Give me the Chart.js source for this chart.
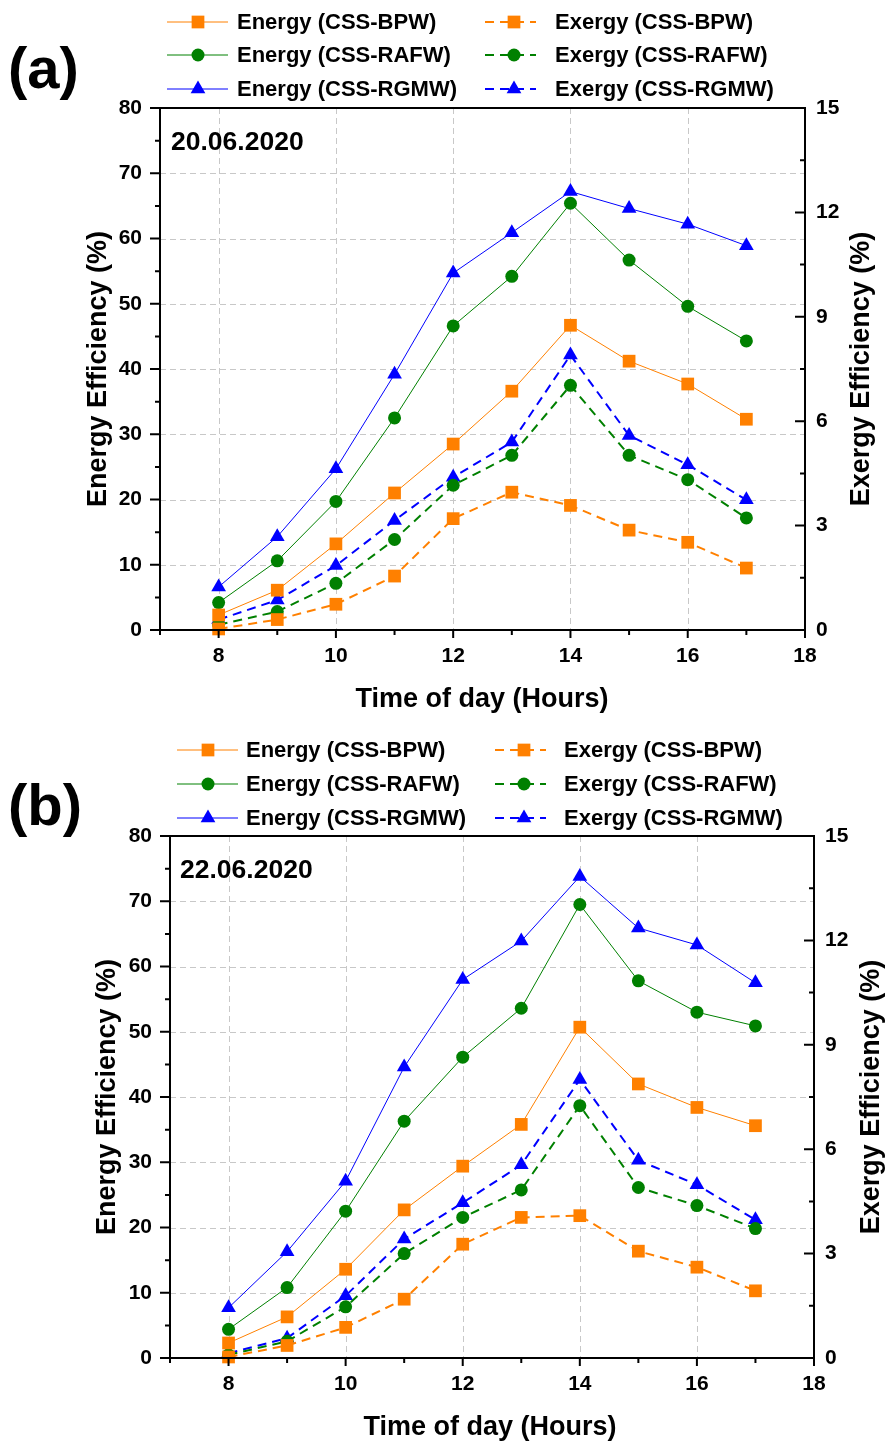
<!DOCTYPE html>
<html><head><meta charset="utf-8">
<script src="https://cdn.jsdelivr.net/npm/chart.js@4.4.0/dist/chart.umd.min.js"></script>
<style>
html,body{margin:0;padding:0;background:#fff;}
body{width:887px;height:1443px;position:relative;overflow:hidden;}
.wrap{position:absolute;left:0;width:887px;}
canvas{display:block;}
</style></head><body>
<div class="wrap" style="top:0;height:722px"><canvas id="ca" width="887" height="722"></canvas></div>
<div class="wrap" style="top:722px;height:721px"><canvas id="cb" width="887" height="721"></canvas></div>
<script>
// ---------- data ----------
const HOURS = [8, 9, 10, 11, 12, 13, 14, 15, 16, 17];

// (a) 20.06.2020
const A_ENERGY_BPW  = [2.3, 6.1, 13.2, 21.0, 28.5, 36.6, 46.7, 41.2, 37.7, 32.3];
const A_ENERGY_RAFW = [4.2, 10.6, 19.7, 32.5, 46.6, 54.2, 65.4, 56.7, 49.6, 44.3];
const A_ENERGY_RGMW = [6.6, 14.3, 24.7, 39.2, 54.7, 60.9, 67.2, 64.6, 62.2, 58.9];
const A_EXERGY_BPW  = [0.03, 0.30, 0.74, 1.55, 3.20, 3.96, 3.58, 2.87, 2.52, 1.78];
const A_EXERGY_RAFW = [0.15, 0.53, 1.34, 2.60, 4.16, 5.02, 7.03, 5.02, 4.32, 3.22];
const A_EXERGY_RGMW = [0.30, 0.86, 1.85, 3.15, 4.39, 5.40, 7.90, 5.59, 4.75, 3.74];

// (b) 22.06.2020
const B_ENERGY_BPW  = [2.3, 6.3, 13.6, 22.7, 29.4, 35.8, 50.7, 42.0, 38.4, 35.6];
const B_ENERGY_RAFW = [4.4, 10.8, 22.5, 36.3, 46.1, 53.6, 69.5, 57.8, 53.0, 50.9];
const B_ENERGY_RGMW = [7.7, 16.3, 27.1, 44.6, 58.0, 63.9, 73.8, 65.9, 63.3, 57.5];
const B_EXERGY_BPW  = [0.03, 0.36, 0.88, 1.69, 3.27, 4.04, 4.09, 3.07, 2.61, 1.93];
const B_EXERGY_RAFW = [0.09, 0.48, 1.47, 3.00, 4.04, 4.83, 7.25, 4.90, 4.38, 3.72];
const B_EXERGY_RGMW = [0.14, 0.57, 1.79, 3.42, 4.46, 5.55, 8.00, 5.68, 4.98, 3.97];

const SERIES_NAMES = ['CSS-BPW', 'CSS-RAFW', 'CSS-RGMW'];
const X_MIN = 7, X_MAX = 18, X_STEP = 1, X_LABEL_EVERY = 2;
const Y_MIN = 0, Y_MAX = 80, Y_STEP = 5, Y_LABEL_EVERY = 10;
const Y1_MIN = 0, Y1_MAX = 15, Y1_STEP = 1.5, Y1_LABEL_EVERY = 3;
const X_TITLE = 'Time of day (Hours)';
const Y_TITLE = 'Energy Efficiency (%)';
const Y1_TITLE = 'Exergy Efficiency (%)';

// ---------- styling ----------
const FONT = '"Liberation Sans", Arial, Helvetica, sans-serif';
const COLORS = ['#FF8000', '#008000', '#0000FF'];
const STYLES = ['rect', 'circle', 'triangle'];
const RADII = [9, 6.5, 8.5];

function isMult(v, m) { const q = v / m; return Math.abs(q - Math.round(q)) < 1e-6; }

function pts(arr) { return HOURS.map((h, i) => ({ x: h, y: arr[i] })); }

function mkDs(kind, idx, arr) {
  const energy = kind === 'Energy';
  return {
    label: kind + ' (' + SERIES_NAMES[idx] + ')',
    data: pts(arr),
    yAxisID: energy ? 'y' : 'y1',
    borderColor: COLORS[idx],
    backgroundColor: COLORS[idx],
    borderWidth: energy ? 1 : 2,
    borderDash: energy ? [] : [9, 6],
    pointStyle: STYLES[idx],
    pointRadius: RADII[idx],
    pointHoverRadius: RADII[idx],
    pointBackgroundColor: COLORS[idx],
    pointBorderWidth: 0,
    tension: 0,
    clip: false,
    _leg: { col: energy ? 0 : 1, row: idx }
  };
}

function drawMarker(ctx, style, r, x, y, color) {
  ctx.save();
  ctx.fillStyle = color;
  ctx.setLineDash([]);
  ctx.beginPath();
  if (style === 'rect') {
    const s = Math.SQRT1_2 * r;
    ctx.rect(x - s, y - s, 2 * s, 2 * s);
  } else if (style === 'circle') {
    ctx.arc(x, y, r, 0, Math.PI * 2);
  } else {
    let a = 0;
    ctx.moveTo(x + Math.sin(a) * r, y - Math.cos(a) * r);
    a += 2 * Math.PI / 3;
    ctx.lineTo(x + Math.sin(a) * r, y - Math.cos(a) * r);
    a += 2 * Math.PI / 3;
    ctx.lineTo(x + Math.sin(a) * r, y - Math.cos(a) * r);
    ctx.closePath();
  }
  ctx.fill();
  ctx.restore();
}

function deco(lay) {
  return {
    id: 'deco',
    beforeDatasetsDraw(chart) {
      const ctx = chart.ctx, a = chart.chartArea;
      const sx = chart.scales.x, sy = chart.scales.y;
      ctx.save();
      ctx.strokeStyle = '#c8c8c8';
      ctx.lineWidth = 1;
      ctx.setLineDash([6, 4]);
      sy.ticks.forEach(t => {
        if (t.value > Y_MIN && t.value < Y_MAX && isMult(t.value, Y_LABEL_EVERY)) {
          const py = Math.round(sy.getPixelForValue(t.value)) + 0.5;
          ctx.beginPath(); ctx.moveTo(a.left, py); ctx.lineTo(a.right, py); ctx.stroke();
        }
      });
      sx.ticks.forEach(t => {
        if (t.value > X_MIN && t.value < X_MAX && isMult(t.value, X_LABEL_EVERY)) {
          const px = Math.round(sx.getPixelForValue(t.value)) + 0.5;
          ctx.beginPath(); ctx.moveTo(px, a.top); ctx.lineTo(px, a.bottom); ctx.stroke();
        }
      });
      ctx.restore();
    },
    afterDraw(chart) {
      const ctx = chart.ctx, a = chart.chartArea;
      const sx = chart.scales.x, sy = chart.scales.y, sy1 = chart.scales.y1;
      ctx.save();
      // frame
      ctx.setLineDash([]);
      ctx.strokeStyle = '#000';
      ctx.lineWidth = 2;
      ctx.strokeRect(a.left, a.top, a.right - a.left, a.bottom - a.top);
      // ticks
      ctx.lineWidth = 2;
      ctx.beginPath();
      sy.ticks.forEach(t => {
        const py = sy.getPixelForValue(t.value);
        const len = isMult(t.value, Y_LABEL_EVERY) ? 10 : 5;
        ctx.moveTo(a.left - len, py); ctx.lineTo(a.left, py);
      });
      sy1.ticks.forEach(t => {
        const py = sy1.getPixelForValue(t.value);
        const len = isMult(t.value, Y1_LABEL_EVERY) ? 10 : 5;
        ctx.moveTo(a.right - len, py); ctx.lineTo(a.right, py);
      });
      sx.ticks.forEach(t => {
        const px = sx.getPixelForValue(t.value);
        const len = isMult(t.value, X_LABEL_EVERY) ? 8 : 5;
        ctx.moveTo(px, a.bottom); ctx.lineTo(px, a.bottom + len);
      });
      ctx.stroke();

      ctx.fillStyle = '#000';
      // axis titles
      ctx.font = 'bold 27px ' + FONT;
      ctx.textAlign = 'center';
      ctx.textBaseline = 'middle';
      const cy = (a.top + a.bottom) / 2;
      ctx.save(); ctx.translate(lay.yTitleX, cy); ctx.rotate(-Math.PI / 2); ctx.fillText(Y_TITLE, 0, 0); ctx.restore();
      ctx.save(); ctx.translate(lay.y1TitleX, cy); ctx.rotate(-Math.PI / 2); ctx.fillText(Y1_TITLE, 0, 0); ctx.restore();
      ctx.fillText(X_TITLE, lay.xTitleX, lay.xTitleY);

      // panel label
      ctx.font = 'bold 58px ' + FONT;
      ctx.textAlign = 'left';
      ctx.fillText(lay.panel, lay.panelX, lay.panelY);

      // date
      ctx.font = 'bold 26.5px ' + FONT;
      ctx.fillText(lay.date, lay.dateX, lay.dateY);

      // legend
      ctx.font = 'bold 22px ' + FONT;
      chart.data.datasets.forEach(ds => {
        const c = lay.legCols[ds._leg.col];
        const y = lay.legRows[ds._leg.row];
        ctx.save();
        ctx.strokeStyle = ds.borderColor;
        ctx.lineWidth = ds.borderWidth;
        ctx.setLineDash(ds.borderDash);
        ctx.beginPath(); ctx.moveTo(c.x0, y); ctx.lineTo(c.x1, y); ctx.stroke();
        ctx.restore();
        drawMarker(ctx, ds.pointStyle, ds.pointRadius, c.mx, y, ds.backgroundColor);
        ctx.fillStyle = '#000';
        ctx.fillText(ds.label, c.tx, y + 1);
      });
      ctx.restore();
    }
  };
}

function build(id, E, X, lay) {
  const datasets = [
    mkDs('Energy', 0, E[0]), mkDs('Energy', 1, E[1]), mkDs('Energy', 2, E[2]),
    mkDs('Exergy', 0, X[0]), mkDs('Exergy', 1, X[1]), mkDs('Exergy', 2, X[2])
  ];
  const tickFont = { family: FONT, size: 21, weight: 'bold' };
  return new Chart(document.getElementById(id), {
    type: 'line',
    data: { datasets },
    options: {
      responsive: false,
      animation: false,
      events: [],
      layout: { padding: { top: lay.top, left: 0, right: 0, bottom: 0 } },
      plugins: { legend: { display: false }, tooltip: { enabled: false }, title: { display: false } },
      scales: {
        x: {
          type: 'linear', min: X_MIN, max: X_MAX,
          grid: { display: false, drawTicks: false },
          border: { display: false },
          ticks: {
            stepSize: X_STEP, autoSkip: false, maxRotation: 0, color: '#000', font: tickFont, padding: 14,
            callback: v => isMult(v, X_LABEL_EVERY) ? String(v) : ''
          },
          afterFit: s => { s.height = lay.H - lay.bottom; }
        },
        y: {
          type: 'linear', position: 'left', min: Y_MIN, max: Y_MAX,
          grid: { display: false, drawTicks: false },
          border: { display: false },
          ticks: {
            stepSize: Y_STEP, autoSkip: false, color: '#000', font: tickFont, padding: 18,
            callback: v => isMult(v, Y_LABEL_EVERY) ? String(v) : ''
          },
          afterFit: s => { s.width = lay.left; }
        },
        y1: {
          type: 'linear', position: 'right', min: Y1_MIN, max: Y1_MAX,
          grid: { display: false, drawTicks: false },
          border: { display: false },
          ticks: {
            stepSize: Y1_STEP, autoSkip: false, color: '#000', font: tickFont, padding: 11,
            callback: v => isMult(v, Y1_LABEL_EVERY) ? String(Math.round(v)) : ''
          },
          afterFit: s => { s.width = 887 - lay.right; }
        }
      }
    },
    plugins: [deco(lay)]
  });
}

build('ca',
  [A_ENERGY_BPW, A_ENERGY_RAFW, A_ENERGY_RGMW],
  [A_EXERGY_BPW, A_EXERGY_RAFW, A_EXERGY_RGMW],
  {
    H: 722, left: 160, right: 805, top: 108, bottom: 630,
    yTitleX: 99, y1TitleX: 862, xTitleX: 482, xTitleY: 700,
    panel: '(a)', panelX: 8, panelY: 72,
    date: '20.06.2020', dateX: 171, dateY: 143,
    legRows: [22, 55, 89],
    legCols: [{ x0: 167, x1: 228, mx: 198, tx: 237 }, { x0: 485, x1: 536, mx: 514, tx: 555 }]
  });

build('cb',
  [B_ENERGY_BPW, B_ENERGY_RAFW, B_ENERGY_RGMW],
  [B_EXERGY_BPW, B_EXERGY_RAFW, B_EXERGY_RGMW],
  {
    H: 721, left: 170, right: 814, top: 114, bottom: 636,
    yTitleX: 108, y1TitleX: 872, xTitleX: 490, xTitleY: 706,
    panel: '(b)', panelX: 8, panelY: 87,
    date: '22.06.2020', dateX: 180, dateY: 149,
    legRows: [28, 62, 96],
    legCols: [{ x0: 177, x1: 238, mx: 208, tx: 246 }, { x0: 495, x1: 546, mx: 524, tx: 564 }]
  });
</script>
</body></html>
